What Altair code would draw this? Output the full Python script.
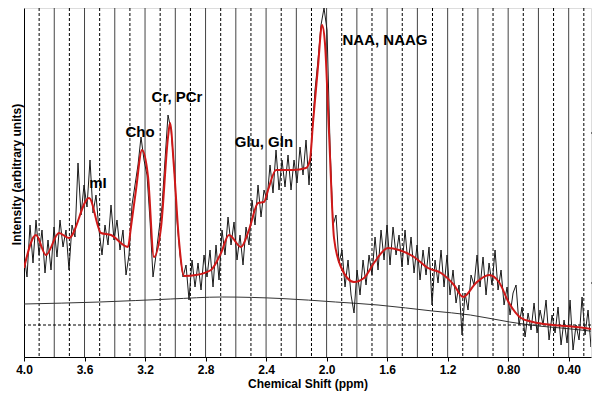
import json
import altair as alt
import pandas as pd

# ---------------- data ----------------
# raw spectrum, sampled from 4.0 ppm downwards
ppm_start = 4.0
ppm_step = 0.01983
spectrum = [
    72, 48, 100, 62, 105, 70, 95, 52, 85, 55,
    98, 68, 105, 78, 95, 55, 100, 88, 162, 110,
    140, 118, 165, 112, 130, 95, 70, 100, 80, 120,
    85, 105, 75, 95, 50, 70, 120, 140, 160, 188,
    165, 150, 105, 48, 70, 95, 118, 165, 210, 195,
    160, 105, 70, 48, 60, 25, 65, 38, 62, 35,
    70, 48, 75, 38, 80, 45, 95, 70, 108, 80,
    103, 65, 90, 60, 98, 80, 125, 100, 140, 108,
    135, 125, 160, 132, 175, 135, 165, 138, 170, 135,
    165, 142, 178, 150, 185, 140, 190, 235, 265, 300,
    317, 295, 180, 100, 110, 62, 75, 38, 65, 30,
    12, 55, 30, 65, 40, 70, 50, 88, 55, 95,
    65, 100, 60, 98, 70, 90, 58, 95, 60, 88,
    52, 80, 45, 75, 50, 78, 20, 65, 42, 75,
    38, 70, 30, 55, 22, 40, -10, 32, 15, 50,
    40, 70, 38, 68, 30, 62, 40, 75, 35, 55,
    20, 38, 10, 32, 40, 0, 18, -12, 12, -5,
    22, -8, 15, 0, 25, -15, 10, -8, 18, -20,
    5, -18, 25, -25, 0, -15, 28, -10, 15, -22,
    20, -8,
]

# fitted model (red)
fit_ppm = [4.000, 3.921, 3.855, 3.769, 3.703, 3.570, 3.491, 3.425, 3.313, 3.293,
           3.260, 3.220, 3.180, 3.141, 3.094, 3.048, 3.035, 3.009, 2.976, 2.942,
           2.863, 2.764, 2.698, 2.645, 2.566, 2.513, 2.453, 2.414, 2.387, 2.334,
           2.222, 2.136, 2.110, 2.090, 2.057, 2.030, 2.011, 1.984, 1.951, 1.905,
           1.819, 1.753, 1.687, 1.594, 1.521, 1.422, 1.330, 1.244, 1.158, 1.098,
           1.013, 0.927, 0.861, 0.794, 0.715, 0.636, 0.504, 0.352, 0.200]
fit_int = [57, 90, 70, 92, 87, 127, 92, 90, 78, 98,
           135, 175, 148, 68, 98, 188, 202, 158, 85, 49,
           50, 55, 72, 90, 78, 95, 122, 123, 135, 155,
           155, 157, 165, 202, 258, 300, 282, 192, 87, 58,
           43, 47, 62, 77, 75, 68, 57, 52, 40, 28,
           42, 50, 43, 22, 7, 3, 0, -2, -5]

# baseline (thin black)
base_ppm = [4.0, 3.5, 3.03, 2.69, 2.3, 1.94, 1.66, 1.3, 1.05, 0.79, 0.6, 0.45, 0.2]
base_int = [21, 23, 26, 28, 26.5, 23, 20, 14, 10, 3, -1, -3, -7]

# peak labels
label_text = ["mI", "Cho", "Cr, PCr", "Glu, Gln", "NAA, NAAG"]
label_ppm = [3.511, 3.233, 2.989, 2.414, 1.614]
label_int = [142, 193, 228, 183, 285]

# grid lines and ticks
solid_lines = [3.8, 3.6, 3.4, 3.2, 3.0, 2.8, 2.6, 2.4, 2.2, 2.0, 1.8, 1.6, 1.4, 1.2, 1.0, 0.8, 0.6, 0.4]
dashed_lines = [3.9, 3.7, 3.5, 3.3, 3.1, 2.9, 2.7, 2.5, 2.3, 2.1, 1.9, 1.7, 1.5, 1.3, 1.1, 0.9, 0.7, 0.5, 0.3]
tick_values = [round(4.0 - 0.1 * i, 1) for i in range(38)]
tick_labels = ["4.0", "", "3.8", "", "3.6", "", "3.4", "", "3.2", "", "3.0", "",
               "2.8", "", "2.6", "", "2.4", "", "2.2", "", "2.0", "", "1.8", "",
               "1.6", "", "1.4", "", "1.2", "", "1.0", "", "0.80", "", "0.60", "",
               "0.40", ""]
right_ticks = [42, 192]

# ---------------- tables ----------------
spec_df = pd.DataFrame({
    "ppm": [ppm_start - ppm_step * i for i in range(len(spectrum))],
    "intensity": spectrum,
})
fit_df = pd.DataFrame({"ppm": fit_ppm, "intensity": fit_int})
base_df = pd.DataFrame({"ppm": base_ppm, "intensity": base_int})
lab_df = pd.DataFrame({"ppm": label_ppm, "intensity": label_int, "text": label_text})
solid_df = pd.DataFrame({"ppm": solid_lines})
dashed_df = pd.DataFrame({"ppm": dashed_lines})
zero_df = pd.DataFrame({"intensity": [0]})
rt_df = pd.DataFrame({"intensity": right_ticks})

FONT = "Liberation Sans"
W, H = 567, 349
xs = alt.Scale(domain=[4.0, 0.2525], nice=False, zero=False)
ys = alt.Scale(domain=[-32, 317], nice=False, zero=False)

label_expr = json.dumps(tick_labels) + "[round((4 - datum.value) * 10)]"

x_axis = alt.Axis(
    values=tick_values, labelExpr=label_expr, title="Chemical Shift (ppm)",
    grid=False, tickSize=4, tickColor="black", domainColor="black",
    labelFont=FONT, labelFontSize=12, labelFontWeight="bold", labelColor="black",
    titleFont=FONT, titleFontSize=12, titleFontWeight="bold", titleColor="black",
    labelPadding=3, titlePadding=3, labelOverlap=False, labelFlush=False,
)
y_axis = alt.Axis(
    title="Intensity (arbitrary units)", labels=False, ticks=False, grid=False,
    domainColor="black", titleFont=FONT, titleFontSize=12, titleFontWeight="bold",
    titleColor="black", titlePadding=1, titleY=166,
)

solid = alt.Chart(solid_df).mark_rule(color="#444444", strokeWidth=1).encode(
    x=alt.X("ppm:Q", scale=xs, axis=x_axis)
)
dashed = alt.Chart(dashed_df).mark_rule(color="black", strokeWidth=1, strokeDash=[3, 2]).encode(
    x=alt.X("ppm:Q", scale=xs)
)
zero = alt.Chart(zero_df).mark_rule(color="black", strokeWidth=1, strokeDash=[3, 2]).encode(
    y=alt.Y("intensity:Q", scale=ys, axis=y_axis)
)
base = alt.Chart(base_df).mark_line(color="#333333", strokeWidth=1, interpolate="monotone", clip=True).encode(
    x=alt.X("ppm:Q", scale=xs), y=alt.Y("intensity:Q", scale=ys)
)
raw = alt.Chart(spec_df).mark_line(color="#1a1a1a", strokeWidth=1, clip=True).encode(
    x=alt.X("ppm:Q", scale=xs), y=alt.Y("intensity:Q", scale=ys)
)
fit = alt.Chart(fit_df).mark_line(color="#d01818", strokeWidth=2, interpolate="monotone", clip=True).encode(
    x=alt.X("ppm:Q", scale=xs), y=alt.Y("intensity:Q", scale=ys)
)
labels = alt.Chart(lab_df).mark_text(
    font=FONT, fontSize=15, fontWeight="bold", color="black", align="center", baseline="middle"
).encode(
    x=alt.X("ppm:Q", scale=xs), y=alt.Y("intensity:Q", scale=ys), text="text:N"
)
rticks = alt.Chart(rt_df).mark_rule(color="black", strokeWidth=1).encode(
    x=alt.value(W), x2=alt.value(W + 1), y=alt.Y("intensity:Q", scale=ys)
)

chart = alt.layer(solid, dashed, zero, base, raw, fit, labels, rticks).properties(
    width=W, height=H,
    autosize=alt.AutoSizeParams(type="none"),
    padding={"left": 16, "top": 0, "right": 1, "bottom": 35},
).configure_view(stroke="black", strokeWidth=1).configure(background="white")

chart.save("out.html", embed_options={"renderer": "svg", "actions": False})
